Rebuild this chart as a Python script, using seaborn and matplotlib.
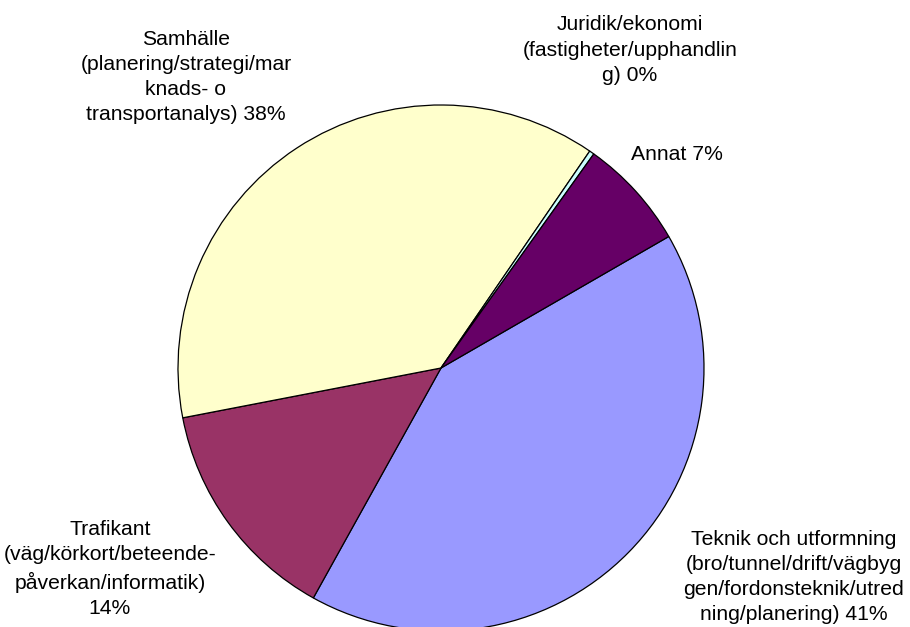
import matplotlib
matplotlib.use("Agg")
import matplotlib.pyplot as plt
import seaborn as sns

categories = [
    "Teknik och utformning\n(bro/tunnel/drift/vägbyg\ngen/fordonsteknik/utred\nning/planering)",
    "Trafikant\n(väg/körkort/beteende-\npåverkan/informatik)\n",
    "Samhälle\n(planering/strategi/mar\nknads- o\ntransportanalys)",
    "Juridik/ekonomi\n(fastigheter/upphandlin\ng)",
    "Annat",
]
shares = [41.4, 13.9, 37.6, 0.3, 6.8]
slice_colors = ["#9999FF", "#993366", "#FFFFCC", "#CCFFFF", "#660066"]

# label centres in pixels (x, y from top)
label_pos = [(794, 577), (110, 569), (186, 77), (630, 50), (677, 155)]

sns.set_theme(style="white")
plt.rcParams["font.family"] = ["Liberation Sans", "DejaVu Sans"]

W, H = 910, 627
cx, cy, r = 441, 368, 263

fig = plt.figure(figsize=(W / 100, H / 100), dpi=100)
ax = fig.add_axes([0, 0, 1, 1])

ax.pie(
    shares,
    colors=slice_colors,
    startangle=30,
    counterclock=False,
    radius=1,
    wedgeprops={"edgecolor": "black", "linewidth": 0.9},
)
ax.set_xlim(-cx / r, (W - cx) / r)
ax.set_ylim(-(H - cy) / r, cy / r)
ax.set_aspect("auto")
ax.axis("off")

total = sum(shares)
for name, val, (px, py) in zip(categories, shares, label_pos):
    pct = f"{round(val / total * 100):.0f}%"
    if name.endswith("\n"):
        text = name + pct
    else:
        text = name + " " + pct
    ax.text((px - cx) / r, (cy - py) / r, text, ha="center", va="center",
            fontsize=15.2, linespacing=1.42, color="black")

fig.savefig("out.png", dpi=100, facecolor="white")
